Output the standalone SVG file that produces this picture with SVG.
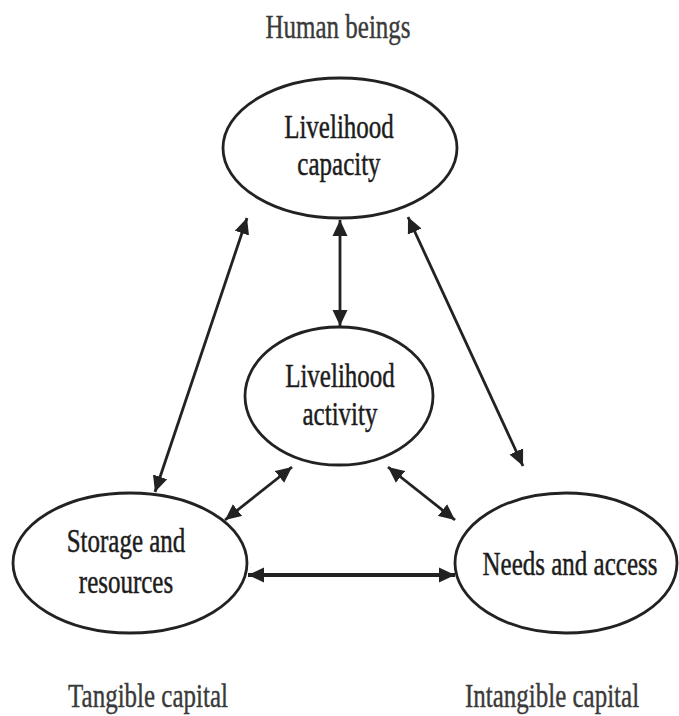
<svg xmlns="http://www.w3.org/2000/svg" width="679" height="716" viewBox="0 0 679 716">
<style>
.node{fill:#fff;stroke:#222;stroke-width:2.8}
.t{font-family:"Liberation Serif","Times New Roman",serif;font-size:25px;fill:#1c1c1c;stroke:#1c1c1c;stroke-width:0.35;text-anchor:middle}
.lbl{font-family:"Liberation Serif","Times New Roman",serif;font-size:25px;fill:#3a3a3a;stroke:#3a3a3a;stroke-width:0.3;text-anchor:middle}
.c{stroke:#222;stroke-width:2.8;fill:none;marker-start:url(#ah);marker-end:url(#ah)}
</style>
<defs>
<marker id="ah" markerUnits="userSpaceOnUse" markerWidth="18" markerHeight="16" refX="16" refY="7.5" orient="auto-start-reverse" viewBox="0 0 18 15">
<path d="M0,0 L16,7.5 L0,15 z" fill="#222"/>
</marker>
</defs>
<rect width="679" height="716" fill="#fff"/>
<text class="lbl" transform="translate(338,38) scale(1,1.35)">Human beings</text>
<g id="connectors">
<line class="c" x1="340" y1="220" x2="340" y2="326"/>
<line class="c" x1="155" y1="492" x2="247" y2="218"/>
<line class="c" x1="408" y1="217" x2="523" y2="466"/>
<line class="c" x1="225" y1="520" x2="292" y2="467"/>
<line class="c" x1="388" y1="467" x2="455" y2="520"/>
<line class="c" x1="248" y1="575" x2="455" y2="575" style="stroke-width:3.8"/>
</g>
<g id="capacity">
<ellipse class="node" cx="340" cy="148" rx="117" ry="70"/>
<text class="t" transform="translate(339,138) scale(1,1.35)">Livelihood</text>
<text class="t" transform="translate(339,175) scale(1,1.35)">capacity</text>
</g>
<g id="activity">
<ellipse class="node" cx="339" cy="396" rx="94" ry="69"/>
<text class="t" transform="translate(340,387) scale(1,1.35)">Livelihood</text>
<text class="t" transform="translate(340,425) scale(1,1.35)">activity</text>
</g>
<g id="storage">
<ellipse class="node" cx="130" cy="563" rx="117" ry="70"/>
<text class="t" transform="translate(126,552) scale(1,1.35)">Storage and</text>
<text class="t" transform="translate(126,593) scale(1,1.35)">resources</text>
</g>
<g id="needs">
<ellipse class="node" cx="566" cy="563" rx="111" ry="70"/>
<text class="t" transform="translate(570,575) scale(1,1.35)">Needs and access</text>
</g>
<text class="lbl" transform="translate(148,707) scale(1,1.35)">Tangible capital</text>
<text class="lbl" transform="translate(552,707) scale(1,1.35)">Intangible capital</text>
</svg>
